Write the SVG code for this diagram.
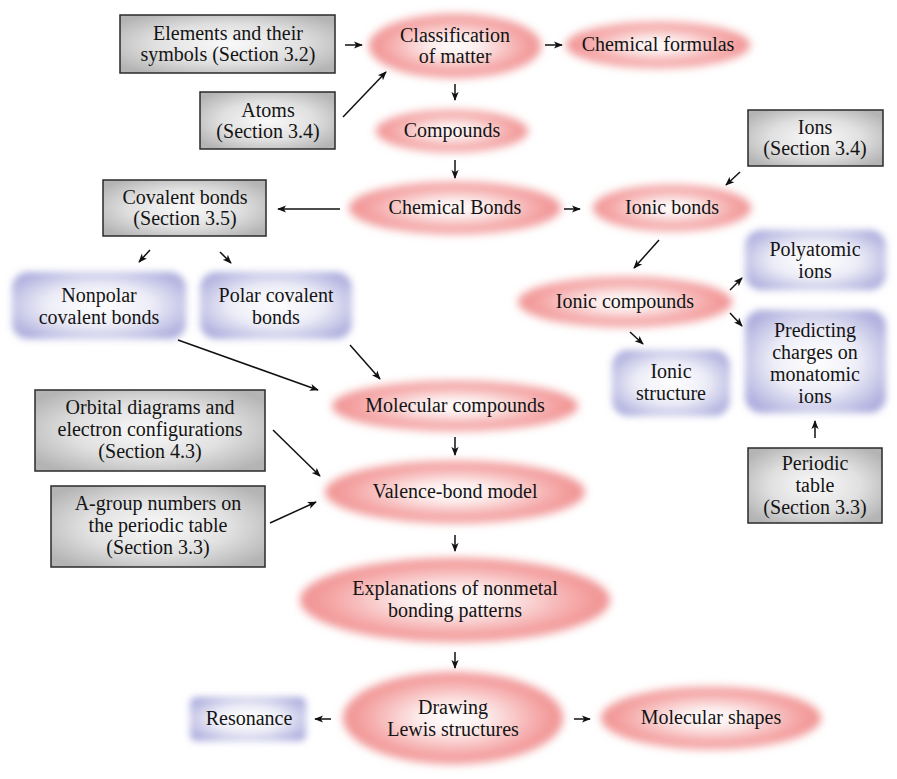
<svg xmlns="http://www.w3.org/2000/svg" width="897" height="779" viewBox="0 0 897 779">
<defs>
<radialGradient id="gGray" cx="50%" cy="50%" r="62%">
<stop offset="0" stop-color="#fafafa"/>
<stop offset="0.55" stop-color="#e0e0e0"/>
<stop offset="1" stop-color="#b4b4b4"/>
</radialGradient>
<radialGradient id="gPink" cx="50%" cy="50%" r="50%">
<stop offset="0" stop-color="#ffffff"/>
<stop offset="0.3" stop-color="#fdeeee"/>
<stop offset="0.8" stop-color="#f5a6a6"/>
<stop offset="1" stop-color="#f09090"/>
</radialGradient>
<radialGradient id="gBlue" cx="50%" cy="50%" r="60%">
<stop offset="0" stop-color="#ffffff"/>
<stop offset="0.5" stop-color="#eeeef8"/>
<stop offset="0.85" stop-color="#c2c2e6"/>
<stop offset="1" stop-color="#adadde"/>
</radialGradient>
<filter id="blur" x="-20%" y="-40%" width="140%" height="180%">
<feGaussianBlur stdDeviation="4"/>
</filter>
<filter id="blurB" x="-20%" y="-30%" width="140%" height="160%">
<feGaussianBlur stdDeviation="3.5"/>
</filter>
<marker id="a" viewBox="0 0 10 10" refX="9" refY="5" markerWidth="9" markerHeight="9" orient="auto" markerUnits="userSpaceOnUse">
<path d="M0,1 L10,5 L0,9 L2.5,5 z" fill="#111"/>
</marker>
</defs>
<style>
text{font-family:'Liberation Serif','Tinos','Times New Roman','Noto Serif','DejaVu Serif','FreeSerif',Times,Georgia,serif;font-size:20px;fill:#141414;text-anchor:middle}
.gray{fill:url(#gGray);stroke:#2a2a2a;stroke-width:1.5}
.pink{fill:url(#gPink);filter:url(#blur)}
.blue{fill:url(#gBlue);filter:url(#blurB)}
.c line{stroke:#111;stroke-width:1.5;marker-end:url(#a)}
</style>
<rect width="897" height="779" fill="#ffffff"/>
<g id="classification"><ellipse class="pink" cx="455" cy="46" rx="86" ry="32"/><text x="455" y="42">Classification</text><text x="455" y="63">of matter</text></g>
<g id="formulas"><ellipse class="pink" cx="658" cy="45" rx="92" ry="23"/><text x="658" y="51">Chemical formulas</text></g>
<g id="compounds"><ellipse class="pink" cx="452" cy="131" rx="76" ry="21"/><text x="452" y="137">Compounds</text></g>
<g id="chembonds"><ellipse class="pink" cx="455" cy="208" rx="106" ry="26"/><text x="455" y="214">Chemical Bonds</text></g>
<g id="ionicbonds"><ellipse class="pink" cx="672" cy="208" rx="79" ry="23"/><text x="672" y="214">Ionic bonds</text></g>
<g id="ioniccompounds"><ellipse class="pink" cx="625" cy="302" rx="107" ry="25"/><text x="625" y="308">Ionic compounds</text></g>
<g id="molcompounds"><ellipse class="pink" cx="455" cy="406" rx="123" ry="25"/><text x="455" y="412">Molecular compounds</text></g>
<g id="valence"><ellipse class="pink" cx="455" cy="492" rx="130" ry="31"/><text x="455" y="498">Valence-bond model</text></g>
<g id="explanations"><ellipse class="pink" cx="455" cy="600" rx="155" ry="42"/><text x="455" y="595">Explanations of nonmetal</text><text x="455" y="617">bonding patterns</text></g>
<g id="drawing"><ellipse class="pink" cx="453" cy="718" rx="110" ry="46"/><text x="453" y="714">Drawing</text><text x="453" y="736">Lewis structures</text></g>
<g id="shapes"><ellipse class="pink" cx="711" cy="718" rx="110" ry="31"/><text x="711" y="724">Molecular shapes</text></g>

<g id="elements"><rect class="gray" x="120" y="15" width="215" height="58"/><text x="228" y="40">Elements and their</text><text x="228" y="61">symbols (Section 3.2)</text></g>
<g id="atoms"><rect class="gray" x="200" y="92" width="135" height="57"/><text x="268" y="117">Atoms</text><text x="268" y="138">(Section 3.4)</text></g>
<g id="covalent"><rect class="gray" x="103" y="180" width="163" height="56"/><text x="185" y="204">Covalent bonds</text><text x="185" y="225">(Section 3.5)</text></g>
<g id="ions"><rect class="gray" x="748" y="110" width="135" height="56"/><text x="815" y="134">Ions</text><text x="815" y="155">(Section 3.4)</text></g>
<g id="orbital"><rect class="gray" x="35" y="390" width="230" height="81"/><text x="150" y="414">Orbital diagrams and</text><text x="150" y="436">electron configurations</text><text x="150" y="458">(Section 4.3)</text></g>
<g id="agroup"><rect class="gray" x="51" y="486" width="214" height="81"/><text x="158" y="510">A-group numbers on</text><text x="158" y="532">the periodic table</text><text x="158" y="554">(Section 3.3)</text></g>
<g id="periodic"><rect class="gray" x="748" y="448" width="134" height="75"/><text x="815" y="470">Periodic</text><text x="815" y="492">table</text><text x="815" y="514">(Section 3.3)</text></g>

<g id="nonpolar"><rect class="blue" x="12" y="272" width="174" height="67" rx="16"/><text x="99" y="302">Nonpolar</text><text x="99" y="324">covalent bonds</text></g>
<g id="polar"><rect class="blue" x="200" y="272" width="152" height="67" rx="16"/><text x="276" y="302">Polar covalent</text><text x="276" y="324">bonds</text></g>
<g id="polyatomic"><rect class="blue" x="745" y="230" width="141" height="60" rx="16"/><text x="815" y="256">Polyatomic</text><text x="815" y="278">ions</text></g>
<g id="ionicstructure"><rect class="blue" x="612" y="350" width="118" height="66" rx="16"/><text x="671" y="378">Ionic</text><text x="671" y="400">structure</text></g>
<g id="predicting"><rect class="blue" x="745" y="310" width="141" height="103" rx="16"/><text x="815" y="337">Predicting</text><text x="815" y="359">charges on</text><text x="815" y="381">monatomic</text><text x="815" y="403">ions</text></g>
<g id="resonance"><rect class="blue" x="190" y="697" width="116" height="44" rx="6"/><text x="249" y="725">Resonance</text></g>

<g id="connectors" class="c">
<line x1="345" y1="45" x2="362" y2="45"/>
<line x1="545" y1="45" x2="562" y2="45"/>
<line x1="343" y1="117" x2="386" y2="72"/>
<line x1="455" y1="84" x2="455" y2="100"/>
<line x1="455" y1="160" x2="455" y2="178"/>
<line x1="340" y1="209" x2="278" y2="209"/>
<line x1="564" y1="209" x2="580" y2="209"/>
<line x1="740" y1="172" x2="726" y2="185"/>
<line x1="659" y1="240" x2="634" y2="268"/>
<line x1="150" y1="250" x2="139" y2="262"/>
<line x1="220" y1="252" x2="231" y2="263"/>
<line x1="730" y1="290" x2="742" y2="278"/>
<line x1="730" y1="313" x2="742" y2="326"/>
<line x1="630" y1="332" x2="643" y2="344"/>
<line x1="178" y1="340" x2="318" y2="390"/>
<line x1="350" y1="345" x2="380" y2="379"/>
<line x1="815" y1="438" x2="815" y2="421"/>
<line x1="455" y1="437" x2="455" y2="455"/>
<line x1="273" y1="430" x2="320" y2="476"/>
<line x1="270" y1="523" x2="316" y2="502"/>
<line x1="455" y1="535" x2="455" y2="551"/>
<line x1="455" y1="652" x2="455" y2="668"/>
<line x1="331" y1="719" x2="315" y2="719"/>
<line x1="574" y1="719" x2="590" y2="719"/>
</g>
</svg>
